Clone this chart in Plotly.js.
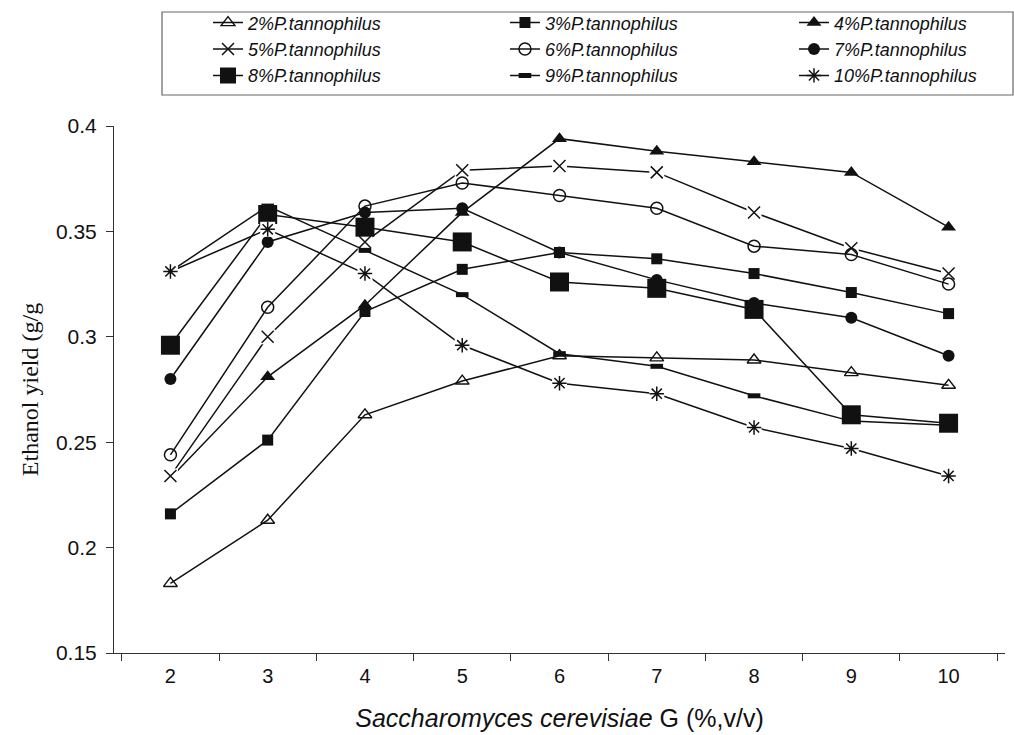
<!DOCTYPE html>
<html>
<head>
<meta charset="utf-8">
<script src="https://cdn.plot.ly/plotly-3.0.1.min.js"></script>
<style>html,body{margin:0;padding:0;background:#fff;}#chart{width:1014px;height:735px;}</style>
</head>
<body>
<div id="chart"></div>
<script>
const xCats = ['2','3','4','5','6','7','8','9','10'];
const seriesNames = ['2%P.tannophilus','3%P.tannophilus','4%P.tannophilus','5%P.tannophilus','6%P.tannophilus','7%P.tannophilus','8%P.tannophilus','9%P.tannophilus','10%P.tannophilus'];
const s2  = [0.183, 0.213, 0.263, 0.279, 0.291, 0.290, 0.289, 0.283, 0.277];
const s3  = [0.216, 0.251, 0.312, 0.332, 0.340, 0.337, 0.330, 0.321, 0.311];
const s4  = [0.233, 0.281, 0.315, 0.359, 0.394, 0.388, 0.383, 0.378, 0.352];
const s5  = [0.234, 0.300, 0.345, 0.379, 0.381, 0.378, 0.359, 0.342, 0.330];
const s6  = [0.244, 0.314, 0.362, 0.373, 0.367, 0.361, 0.343, 0.339, 0.325];
const s7  = [0.280, 0.345, 0.359, 0.361, 0.340, 0.327, 0.316, 0.309, 0.291];
const s8  = [0.296, 0.358, 0.352, 0.345, 0.326, 0.323, 0.313, 0.263, 0.259];
const s9  = [0.331, 0.362, 0.341, 0.320, 0.292, 0.286, 0.272, 0.260, 0.258];
const s10 = [0.331, 0.351, 0.330, 0.296, 0.278, 0.273, 0.257, 0.247, 0.234];
const yTickVals = [0.15, 0.2, 0.25, 0.3, 0.35, 0.4];
const yTickText = ['0.15', '0.2', '0.25', '0.3', '0.35', '0.4'];

const values = [s2, s3, s4, s5, s6, s7, s8, s9, s10];
const INK = '#111';
const markerStyles = [
  {symbol: 'triangle-up-open', size: 12, line: {width: 1.4, color: INK}},
  {symbol: 'square', size: 11},
  {symbol: 'triangle-up', size: 13},
  {symbol: 'x-thin-open', size: 12, line: {width: 1.5, color: INK}},
  {symbol: 'circle-open', size: 12, line: {width: 1.5, color: INK}},
  {symbol: 'circle', size: 12},
  {symbol: 'square', size: 19},
  {symbol: 'line-ew-open', size: 9, line: {width: 5, color: INK}},
  {symbol: 'asterisk-open', size: 12, line: {width: 1.5, color: INK}}
];
// series whose markers sit on a white box (hides lines right under them)
const whiteBacked = [false, false, false, true, false, false, false, false, true];
const legendIds = ['legend', 'legend2', 'legend3'];

const traces = [];
values.forEach((v, i) => {
  const marker = Object.assign({color: INK}, markerStyles[i]);
  if (whiteBacked[i]) {
    traces.push({type: 'scatter', mode: 'lines', x: xCats, y: v, showlegend: false,
      line: {color: INK, width: 1.5}, cliponaxis: false});
    traces.push({type: 'scatter', mode: 'markers', x: xCats, y: v, showlegend: false,
      marker: {symbol: 'square', size: 15, color: '#fff'}, cliponaxis: false});
    traces.push({type: 'scatter', mode: 'markers', x: xCats, y: v, showlegend: false,
      marker: marker, cliponaxis: false});
  } else {
    traces.push({type: 'scatter', mode: 'lines+markers', x: xCats, y: v, showlegend: false,
      line: {color: INK, width: 1.5}, marker: marker, cliponaxis: false});
  }
});
// legend entries (three columns, filled row by row)
values.forEach((v, i) => {
  traces.push({type: 'scatter', mode: 'lines+markers', x: xCats, y: v.map(() => null),
    name: seriesNames[i], showlegend: true, legend: legendIds[i % 3],
    line: {color: INK, width: 1.5}, marker: Object.assign({color: INK}, markerStyles[i])});
});

const legendFont = {family: '"Liberation Sans", Arial, sans-serif', size: 18, color: INK, style: 'italic'};
function legendAt(xPaper) {
  return {orientation: 'v', x: xPaper, xanchor: 'left', yref: 'container', y: 0.994, yanchor: 'top',
    borderwidth: 0, bgcolor: 'rgba(0,0,0,0)', font: legendFont, itemsizing: 'trace', tracegroupgap: 0};
}

const layout = {
  width: 1014,
  height: 735,
  paper_bgcolor: '#fff',
  plot_bgcolor: '#fff',
  margin: {l: 114, r: 9, t: 126, b: 82},
  showlegend: true,
  legend: legendAt(0.1055),
  legend2: legendAt(0.4388),
  legend3: legendAt(0.7632),
  shapes: [{
    type: 'rect', xref: 'paper', yref: 'paper',
    x0: 0.0539, x1: 1.009, y0: 1.0588, y1: 1.2163,
    line: {color: '#666', width: 1.2}, fillcolor: 'rgba(0,0,0,0)', layer: 'below'
  }],
  xaxis: {
    type: 'category',
    showline: true, linecolor: '#333', linewidth: 1,
    ticks: 'outside', ticklen: 7, tickcolor: '#333', tickson: 'boundaries',
    ticklabelstandoff: 5,
    showgrid: false, zeroline: false,
    tickfont: {family: '"Liberation Sans", Arial, sans-serif', size: 20, color: INK},
    title: {text: '<i>Saccharomyces cerevisiae</i> G (%,v/v)', font: {family: '"Liberation Sans", Arial, sans-serif', size: 25, color: INK}, standoff: 23}
  },
  yaxis: {
    range: [0.15, 0.4],
    tickvals: yTickVals, ticktext: yTickText,
    showline: true, linecolor: '#333', linewidth: 1,
    ticks: 'outside', ticklen: 7, tickcolor: '#333',
    ticklabelstandoff: 5,
    showgrid: false, zeroline: false,
    tickfont: {family: '"Liberation Sans", Arial, sans-serif', size: 21, color: INK},
    title: {text: 'Ethanol yield (g/g', font: {family: '"Liberation Serif", "Times New Roman", serif', size: 24, color: INK}, standoff: 10}
  }
};

Plotly.newPlot('chart', traces, layout, {displayModeBar: false, staticPlot: true});
</script>
</body>
</html>
